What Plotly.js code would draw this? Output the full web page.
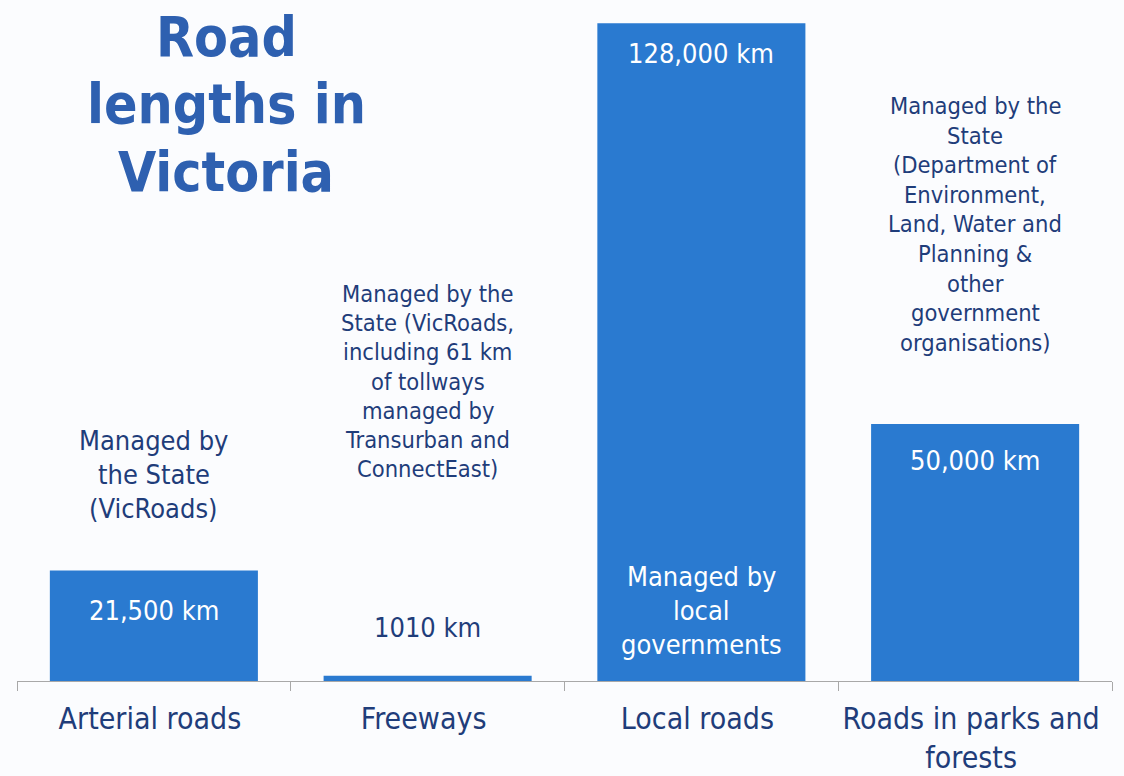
<!DOCTYPE html>
<html>
<head>
<meta charset="utf-8">
<script src="https://cdn.plot.ly/plotly-3.0.1.min.js"></script>
<style>html,body{margin:0;padding:0;background:#fbfcfe;}#chart{width:1124px;height:776px;}</style>
</head>
<body>
<div id="chart"></div>
<script>
// ---- data ----
const categories = ['Arterial roads', 'Freeways', 'Local roads', 'Roads in parks and<br>forests'];
const lengthsKm = [21500, 1010, 128000, 50000];
const valueLabels = ['21,500 km', '1010 km', '128,000 km', '50,000 km'];
const managedBy = [
  ['Managed by', 'the State', '(VicRoads)'],
  ['Managed by the', 'State (VicRoads,', 'including 61 km', 'of tollways', 'managed by', 'Transurban and', 'ConnectEast)'],
  ['Managed by', 'local', 'governments'],
  ['Managed by the', 'State', '(Department of', 'Environment,', 'Land, Water and', 'Planning &', 'other', 'government', 'organisations)']
];
const titleLines = ['Road', 'lengths in', 'Victoria'];

// ---- style / layout ----
const FONT = 'DejaVu Sans Condensed, DejaVu Sans, sans-serif';
const BAR = '#2a7ad0';
const DARK = '#1f3d7a';
const TITLE = '#2e60b0';
const W = 1124, H = 776, ML = 17, MR = 12, MT = 0, MB = 95;
const plotH = H - MT - MB, plotW = W - ML - MR;
const py = p => (H - MB - p) / plotH;   // pixel row -> paper y
const px = p => (p - ML) / plotW;       // pixel col -> paper x

const annotations = [];
function block(lines, x, firstY, step, size, color, xref) {
  lines.forEach((t, i) => {
    annotations.push({
      text: t, x: x, xref: xref || 'x', y: py(firstY + i * step), yref: 'paper',
      xanchor: 'center', yanchor: 'middle', showarrow: false,
      font: {family: FONT, size: size, color: color}
    });
  });
}
// title
block(titleLines.map(t => '<b>' + t + '</b>'), px(226), 37, 67.5, 55, TITLE, 'paper');
// value labels
block([valueLabels[0]], 0, 610, 0, 27, '#ffffff');
block([valueLabels[1]], 1, 627, 0, 27, DARK);
block([valueLabels[2]], 2, 53, 0, 27, '#ffffff');
block([valueLabels[3]], 3, 461, 0, 27, '#ffffff');
// managed-by notes
block(managedBy[0], 0, 440, 34, 27, DARK);
block(managedBy[1], 1, 294, 29.2, 23.5, DARK);
block(managedBy[2], 2, 576, 34, 27, '#ffffff');
block(managedBy[3], 3, 106, 29.6, 23.5, DARK);

const trace = {
  type: 'bar', x: categories, y: lengthsKm,
  marker: {color: BAR, line: {width: 0}},
  hoverinfo: 'x+y'
};

const layout = {
  width: W, height: H,
  margin: {l: ML, r: MR, t: MT, b: MB, pad: 0},
  paper_bgcolor: '#fbfcfe', plot_bgcolor: '#fbfcfe',
  bargap: 0.24,
  showlegend: false,
  xaxis: {
    type: 'category', showline: true, linecolor: '#a8a8a8', linewidth: 1,
    ticks: 'outside', tickson: 'boundaries', ticklen: 9, tickcolor: '#a8a8a8', tickwidth: 1,
    tickangle: 0, automargin: false, ticklabelstandoff: 11, ticklabelshift: -4,
    showgrid: false, zeroline: false,
    tickfont: {family: FONT, size: 30, color: DARK}
  },
  yaxis: {range: [0, 132500], visible: false, showgrid: false, zeroline: false, fixedrange: true},
  annotations: annotations
};

Plotly.newPlot('chart', [trace], layout, {displayModeBar: false, staticPlot: true});
</script>
</body>
</html>
